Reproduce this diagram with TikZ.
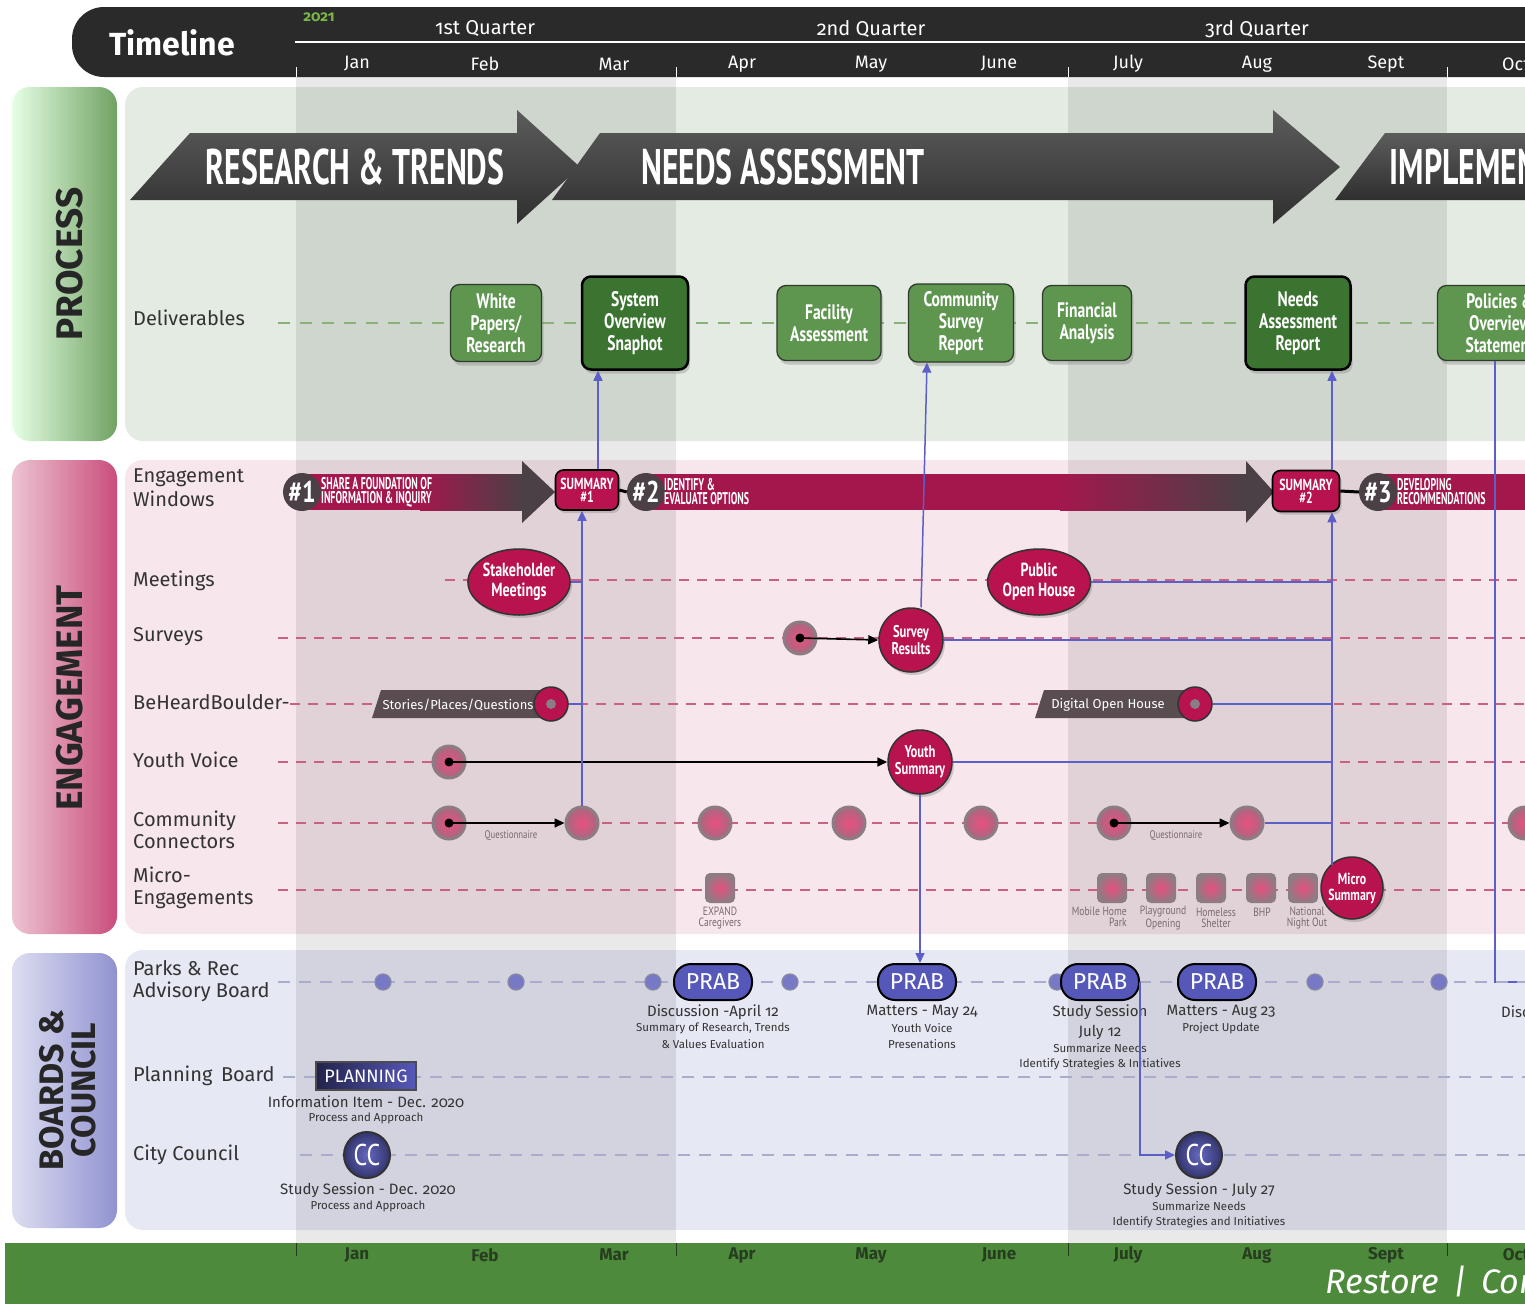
\documentclass[tikz,border=0pt]{standalone}
\usepackage{fontspec}
\setmainfont[Numbers=OldStyle]{Fira Sans}
\newfontfamily\cnA[FakeStretch=0.58]{PT Sans}
\newfontfamily\cnD[FakeStretch=0.635]{PT Sans}
\newfontfamily\cnB[FakeStretch=0.8]{PT Sans}
\newfontfamily\cnC[FakeStretch=0.74]{PT Sans}
\usetikzlibrary{shadows,arrows.meta,calc,shapes.geometric}
\newcommand\fsz[2]{\fontsize{#1}{#2}\selectfont}
\definecolor{tlbg}{HTML}{2A2A2A}
\definecolor{procbg}{HTML}{E3EBE2}
\definecolor{engbg}{HTML}{F7E6EC}
\definecolor{brdbg}{HTML}{E6E8F3}
\definecolor{gfoot}{HTML}{4E8A3C}
\definecolor{footxt}{HTML}{263D20}
\definecolor{crim}{HTML}{A3174D}
\definecolor{crimB}{HTML}{B8124F}
\definecolor{dkg}{HTML}{4A4045}
\definecolor{tagg}{HTML}{5A4D52}
\definecolor{gbox}{HTML}{5E9650}
\definecolor{gboxd}{HTML}{3B7430}
\definecolor{gline}{HTML}{2E3A2C}
\definecolor{blu}{HTML}{5B5FC7}
\definecolor{prab}{HTML}{5558B8}
\definecolor{txt}{HTML}{333333}
\definecolor{subtxt}{HTML}{7A6A70}
\definecolor{pinkdash}{HTML}{C8627F}
\definecolor{gdash}{HTML}{8AB07C}
\definecolor{bdash}{HTML}{A9ACCB}
\definecolor{yrgreen}{HTML}{7AB648}
\definecolor{ringg}{HTML}{8C7C83}
\definecolor{ringin}{HTML}{E8507F}
\definecolor{ringout}{HTML}{A86880}
\definecolor{arrA}{HTML}{2F2F2F}
\definecolor{arrB}{HTML}{5C5C5C}
\tikzset{
  lbl/.style={anchor=west, text=txt, font=\fsz{20}{24}, align=left, inner sep=0pt},
  mon/.style={text=white, font=\fsz{18}{20}},
  fmon/.style={text=footxt, font=\bfseries\fsz{17}{20}},
  qtr/.style={text=white, font=\fsz{20}{22}},
  delv/.style={rounded corners=9pt, draw=gline, line width=1.3pt, fill=gbox, text=white,
     font=\cnC\bfseries\fsz{21}{22}, align=center, inner sep=0pt,
     drop shadow={opacity=0.35, shadow xshift=2pt, shadow yshift=-4pt}},
  delvd/.style={delv, fill=gboxd, draw=black, line width=2.5pt},
  bigarr/.style={text=white, font=\cnD\bfseries\fsz{50}{50}},
  numc/.style={circle, fill=dkg, minimum size=38pt, inner sep=0pt, text=white, font=\cnB\bfseries\fsz{30}{30}},
  bartxt/.style={anchor=west, text=white, font=\cnA\bfseries\fsz{17}{14}, align=left, inner sep=0pt},
  summ/.style={rounded corners=8pt, fill=crimB, draw=black, line width=1.6pt, text=white,
     font=\cnC\bfseries\fsz{16}{13}, align=center, inner sep=0pt,
     drop shadow={opacity=0.35, shadow xshift=2pt, shadow yshift=-3pt}},
  ell/.style={ellipse, fill=crimB, draw=black!80, line width=1.5pt, text=white,
     font=\cnC\bfseries\fsz{19}{20}, align=center, inner sep=0pt,
     drop shadow={opacity=0.35, shadow xshift=2pt, shadow yshift=-3pt}},
  cir/.style={ell, circle, font=\cnC\bfseries\fsz{17}{17}},
  ring/.style={circle, minimum size=32pt, inner sep=0pt, draw=ringg, line width=3pt,
     inner color=ringin, outer color=ringout},
  msq/.style={rounded corners=5pt, minimum size=30pt, inner sep=0pt, inner color=ringin, outer color=ringg},
  tinyl/.style={text=subtxt, font=\cnB\fsz{12}{11}, align=center, inner sep=0pt},
  pdash/.style={draw=pinkdash, line width=1.3pt, dash pattern=on 10pt off 8pt},
  bdsh/.style={draw=bdash, line width=1.6pt, dash pattern=on 12pt off 9pt},
  bl/.style={draw=blu, line width=1.5pt},
  tip/.style={-{Triangle[width=9pt,length=10pt]}},
  blk/.style={draw=black, line width=1.6pt, -{Triangle[width=9pt,length=10pt]}},
  bdot/.style={circle, minimum size=16pt, inner sep=0pt, fill=prab!80, draw=bdash!80!black, line width=1.3pt},
  pill/.style={rounded corners=17pt, minimum width=78pt, minimum height=36pt, inner sep=0pt,
     fill=prab, draw=black, line width=2pt, text=white, font=\fsz{23}{23}},
  ccn/.style={circle, minimum size=46pt, inner sep=0pt, inner color=prab!90, outer color=prab!60!black,
     draw=black!80, line width=2pt, text=white, font=\cnB\fsz{30}{30}},
  bt/.style={text=txt, font=\fsz{15}{16}, inner sep=0pt},
  bs/.style={text=txt, font=\fsz{11.5}{12}, inner sep=0pt},
  sect/.style={text=black!85, font=\bfseries\fsz{37}{34}, rotate=90, align=center}
}
\begin{document}
\begin{tikzpicture}[x=1pt,y=-1pt]
\useasboundingbox (0,0) rectangle (1525,1304);
\clip (0,0) rectangle (1525,1304);
\fill[white] (0,0) rectangle (1525,1304);

% ---------- section backgrounds ----------
\shade[left color=green!10!white, right color=gfoot!80!white, rounded corners=18pt] (12,87) rectangle (117,441);
\fill[procbg, rounded corners=18pt] (125,87) rectangle (1600,441);
\shade[left color=crimB!25!white, right color=crimB!75!white, rounded corners=18pt] (12,460) rectangle (117,934);
\fill[engbg, rounded corners=18pt] (125,460) rectangle (1600,934);
\shade[left color=prab!20!white, right color=prab!65!white, rounded corners=18pt] (12,953) rectangle (117,1228);
\fill[brdbg, rounded corners=18pt] (125,950) rectangle (1600,1230);
\fill[gfoot] (5,1243) rectangle (1525,1304);

% quarter bands
\fill[black, opacity=0.085] (296,77) rectangle (676,1243);
\fill[black, opacity=0.085] (1068,77) rectangle (1447,1243);

% ---------- timeline bar ----------
\fill[tlbg, rounded corners=32pt] (72,7) rectangle (1600,77);
\node[text=white, font=\bfseries\fsz{32}{34}] (tl) at (172,43) {Timeline};
\node[text=yrgreen, font=\bfseries\fsz{15}{16}] (yr) at (319,17) {2021};
\node[qtr] (q1) at (485,29) {1st Quarter};
\node[qtr] (q2) at (871,29) {2nd Quarter};
\node[qtr] (q3) at (1257,29) {3rd Quarter};
\draw[white, line width=1.5pt] (295,42) -- (1525,42);
\foreach \x in {296,676,1068,1447} {
  \draw[white, line width=1pt] (\x,67) -- (\x,77);
  \draw[footxt, line width=1pt] (\x,1243) -- (\x,1256);
}
\foreach \x/\m [count=\i] in {357/Jan,485/Feb,614/Mar,742/Apr,871/May,999/June,1128/July,1257/Aug,1386/Sept,1516/Oct} {
  \node[mon] (m\i) at (\x,64) {\m};
  \node[fmon] (f\i) at (\x,1255) {\m};
}
\node[anchor=west, text=white, font=\itshape\fsz{34}{34}] (rst) at (1322,1281) {Restore \,|\, Connect};

% ---------- section labels ----------
\node[sect] (sp) at (70,264) {PROCESS};
\node[sect] (se) at (70,698) {ENGAGEMENT};
\node[sect, font=\bfseries\fsz{34}{32}] (sb) at (68,1090) {BOARDS \&\\COUNCIL};

% ---------- process arrows ----------
\shade[top color=arrB, bottom color=arrA] (1385,133) -- (1600,133) -- (1600,200) -- (1335,200) -- cycle;
\shade[top color=arrB, bottom color=arrA] (600,133) -- (1273,133) -- (1273,110) -- (1340,167) -- (1273,224) -- (1273,200) -- (552,200) -- cycle;
\shade[top color=arrB, bottom color=arrA] (190,133) -- (517,133) -- (517,110) -- (580,167) -- (517,224) -- (517,200) -- (130,200) -- cycle;
\node[bigarr] (a1) at (355,167) {RESEARCH \& TRENDS};
\node[bigarr] (a2) at (783,167) {NEEDS ASSESSMENT};
\node[bigarr, anchor=west] (a3) at (1386,167) {IMPLEMENTATION};

% ---------- deliverables ----------
\node[lbl] (ldel) at (133,318) {Deliverables};
\draw[gdash, line width=2pt, dash pattern=on 12pt off 10pt] (278,323) -- (1525,323);
\node[delv, minimum width=91pt, minimum height=77pt] (wp) at (496,323) {White\\Papers/\\Research};
\node[delvd, minimum width=106pt, minimum height=93pt] (sos) at (635,323) {System\\Overview\\Snaphot};
\node[delv, minimum width=104pt, minimum height=75pt] (fa) at (829,323) {Facility\\Assessment};
\node[delv, minimum width=105pt, minimum height=78pt] (csr) at (961,323) {Community\\Survey\\Report};
\node[delv, minimum width=89pt, minimum height=75pt] (fin) at (1087,323) {Financial\\Analysis};
\node[delvd, minimum width=105pt, minimum height=93pt] (nar) at (1298,323) {Needs\\Assessment\\Report};
\node[delv, minimum width=125pt, minimum height=75pt] (pol) at (1500,323) {Policies \&\\Overview\\Statement};

% ---------- engagement row labels & dashes ----------
\node[lbl] (lew) at (133,488) {Engagement\\Windows};
\node[lbl] (lme) at (133,581) {Meetings};
\node[lbl] (lsu) at (133,637) {Surveys};
\node[lbl] (lbh) at (133,702) {BeHeardBoulder-};
\node[lbl] (lyv) at (133,760) {Youth Voice};
\node[lbl, font=\fsz{20}{22}] (lcc) at (133,830) {Community\\Connectors};
\node[lbl, font=\fsz{20}{22}] (lmi) at (133,888) {Micro-\\Engagements};
\draw[pdash] (445,580) -- (1525,580);
\draw[pdash] (278,638) -- (1525,638);
\draw[pdash] (290,704) -- (1525,704);
\draw[pdash] (278,762) -- (1525,762);
\draw[pdash] (278,823) -- (1525,823);
\draw[pdash] (278,890) -- (1525,890);

% ---------- engagement windows bar ----------
\fill[crim] (300,474) rectangle (523,510);
\shade[left color=crim, right color=dkg] (420,474) rectangle (523,510);
\fill[dkg] (522,461) -- (555,492) -- (522,523) -- cycle;
\fill[crim] (646,474) rectangle (1247,510);
\shade[left color=crim, right color=dkg] (1060,474) rectangle (1247,510);
\fill[dkg] (1246,461) -- (1274,492) -- (1246,523) -- cycle;
\fill[crim] (1378,474) rectangle (1525,510);
\node[numc] (n1) at (302,492) {\#1};
\node[numc] (n2) at (646,492) {\#2};
\node[numc] (n3) at (1378,492) {\#3};
\node[bartxt] (t1) at (321,492) {SHARE A FOUNDATION OF\\INFORMATION \& INQUIRY};
\node[bartxt] (t2) at (664,492) {IDENTIFY \&\\EVALUATE OPTIONS};
\node[bartxt] (t3) at (1397,492) {DEVELOPING\\RECOMMENDATIONS};
\node[summ, minimum width=63pt, minimum height=40pt] (s1) at (587,490) {SUMMARY\\\#1};
\node[summ, minimum width=67pt, minimum height=41pt] (s2) at (1306,491) {SUMMARY\\\#2};
\draw[black, line width=3pt] (s1.east) -- (n2.west);
\draw[black, line width=3pt] (s2.east) -- (n3.west);

% ---------- engagement nodes ----------
\node[ell, minimum width=94pt, minimum height=66pt] (stk) at (519,582) {Stakeholder\\Meetings};
\node[ell, minimum width=94pt, minimum height=66pt] (poh) at (1039,582) {Public\\Open House};
\node[ring] (sv1) at (800,638) {};
\node[cir, minimum size=64pt] (sres) at (911,640) {Survey\\Results};
\fill[tagg] (381,690) -- (548,690) -- (548,718) -- (372,718) -- cycle;
\node[text=white, font=\fsz{13}{13}] (tg1) at (458,705) {Stories/Places/Questions};
\fill[tagg] (1044,690) -- (1190,690) -- (1190,718) -- (1035,718) -- cycle;
\node[text=white, font=\fsz{13}{13}] (tg2) at (1108,705) {Digital Open House};
\node[circle, minimum size=34pt, inner sep=0pt, fill=crimB, draw=black!80, line width=1.5pt] (bh1) at (551,704) {};
\node[circle, minimum size=34pt, inner sep=0pt, fill=crimB, draw=black!80, line width=1.5pt] (bh2) at (1195,704) {};
\fill[ringg] (bh1.center) circle (5);
\fill[ringg] (bh2.center) circle (5);
\node[ring] (yv1) at (449,762) {};
\node[cir, minimum size=64pt] (ysum) at (920,762) {Youth\\Summary};
\foreach \x [count=\i] in {449,582,715,849,981,1114,1247,1525} {
  \node[ring] (cc\i) at (\x,823) {};
}
\node[tinyl, font=\cnB\fsz{11}{11}] (qn1) at (511,836) {Questionnaire};
\node[tinyl, font=\cnB\fsz{11}{11}] (qn2) at (1176,836) {Questionnaire};
\foreach \x [count=\i] in {720,1112,1161,1211,1261,1303} {
  \node[msq] (me\i) at (\x,888) {};
}
\node[tinyl] (mel1) at (720,918) {EXPAND\\Caregivers};
\node[tinyl, anchor=north east, align=right] (mel2) at (1127,907) {Mobile Home\\Park};
\node[tinyl] (mel3) at (1163,918) {Playground\\Opening};
\node[tinyl] (mel4) at (1216,918) {Homeless\\Shelter};
\node[tinyl] (mel5) at (1262,912) {BHP};
\node[tinyl] (mel6) at (1307,918) {National\\Night Out};
\node[cir, minimum size=62pt, font=\cnC\bfseries\fsz{16}{16}] (msum) at (1352,888) {Micro\\Summary};

% black arrows
\draw[blk] (sv1.center) -- (sres.west);
\draw[blk] (yv1.center) -- (ysum.west);
\draw[blk] (cc1.center) -- (cc2.west);
\draw[blk] (cc6.center) -- (cc7.west);
\foreach \n in {sv1,yv1,cc1,cc6} { \fill[black] (\n.center) circle (4.5); }

% ---------- blue connectors ----------
\draw[bl, tip] (cc2.north) -- (cc2.north |- s1.south);
\draw[bl] (stk.east) -- (stk.east -| cc2);
\draw[bl] (bh1.east) -- (bh1.east -| cc2);
\draw[bl, tip] ([xshift=11pt]s1.north) -- ([xshift=11pt]s1.north |- sos.south);
\draw[bl, tip] ([xshift=10pt]sres.north) -- ([xshift=-34pt]csr.south);
\coordinate (mtop) at ($(msum.center)+(-20,-23)$);
\draw[bl, tip] (mtop) -- (mtop |- s2.south);
\draw[bl, tip] (s2.north -| mtop) -- (nar.south -| mtop);
\draw[bl] (poh.east) -- (poh.east -| mtop);
\draw[bl] (sres.east) -- (sres.east -| mtop);
\draw[bl] (bh2.east) -- (bh2.east -| mtop);
\draw[bl] (ysum.east) -- (ysum.east -| mtop);
\draw[bl] (cc7.east) -- (cc7.east -| mtop);
\coordinate (polend) at (1530,982);
\draw[bl] ([xshift=-5pt]pol.south) |- (polend);

% ---------- boards ----------
\node[lbl, font=\fsz{20}{22}] (lpr) at (133,981) {Parks \& Rec\\Advisory Board};
\node[lbl] (lpb) at (133,1076) {Planning\, Board};
\node[lbl] (lcy) at (133,1155) {City Council};
\draw[bdsh] (278,982) -- (1525,982);
\draw[bdsh] (283,1077) -- (1525,1077);
\draw[bdsh] (300,1155) -- (1525,1155);
\foreach \x [count=\i] in {383,516,653,790,1057,1315,1439} {
  \node[bdot] (bd\i) at (\x,982) {};
}
\node[pill] (p1) at (713,982) {PRAB};
\node[pill] (p2) at (917,982) {PRAB};
\node[pill] (p3) at (1100,982) {PRAB};
\node[pill] (p4) at (1217,982) {PRAB};
\draw[bl, tip] (ysum.south) -- (ysum.south |- p2.north);

\node[bt] (d1a) at (713,1012) {Discussion -April 12};
\node[bs] (d1b) at (713,1028) {Summary of Research, Trends};
\node[bs] (d1c) at (713,1044) {\& Values Evaluation};
\node[bt] (d2a) at (922,1012) {Matters - May 24};
\node[bs] (d2b) at (922,1028) {Youth Voice};
\node[bs] (d2c) at (922,1044) {Presenations};
\node[bt] (d3a) at (1100,1012) {Study Session};
\node[bt] (d3b) at (1100,1032) {July 12};
\node[bs] (d3c) at (1100,1048) {Summarize Needs};
\node[bs] (d3d) at (1100,1064) {Identify Strategies \& Initiatives};
\node[bt] (d4a) at (1221,1012) {Matters - Aug 23};
\node[bs] (d4b) at (1221,1028) {Project Update};
\node[bt, anchor=west] (d5a) at (1501,1012) {Discussion};

\node[minimum width=100pt, minimum height=28pt, inner sep=0pt, left color=prab!40!black, right color=prab,
      draw=black!70, line width=1.2pt, text=white, font=\fsz{18}{18}] (plan) at (366,1076) {PLANNING};
\node[bt] (pla) at (366,1102) {Information Item - Dec. 2020};
\node[bs] (plb) at (366,1118) {Process and Approach};

\node[ccn] (ccA) at (367,1155) {CC};
\node[bt] (cca) at (368,1190) {Study Session - Dec. 2020};
\node[bs] (ccb) at (368,1206) {Process and Approach};
\node[ccn] (ccB) at (1199,1155) {CC};
\node[bt] (ccc) at (1199,1190) {Study Session - July 27};
\node[bs] (ccd) at (1199,1206) {Summarize Needs};
\node[bs] (cce) at (1199,1222) {Identify Strategies and Initiatives};
\draw[bl, tip] (p3.east) |- (ccB.west);
\end{tikzpicture}
\end{document}
